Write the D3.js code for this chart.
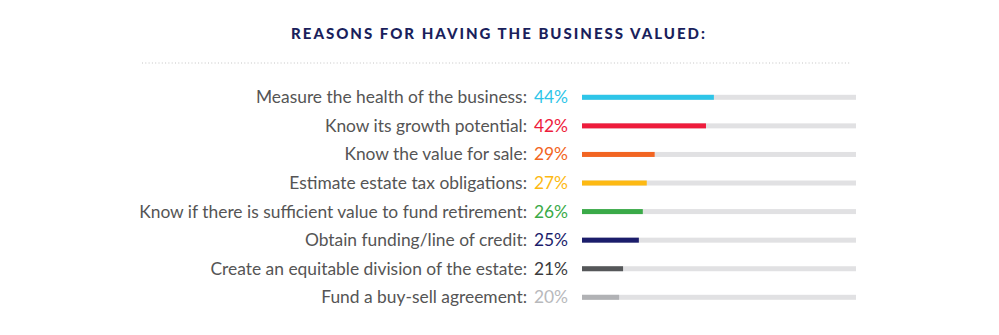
<!DOCTYPE html>
<html>
<head>
<meta charset="utf-8">
<script src="https://cdn.jsdelivr.net/npm/d3@7"></script>
<style>
  html, body { margin: 0; padding: 0; background: #ffffff; }
  svg { display: block; }
</style>
</head>
<body>
<svg id="chart" width="999" height="335"></svg>
<script>
// Survey answers: reasons owners give for having the business valued
const reasons = [
  "Measure the health of the business:",
  "Know its growth potential:",
  "Know the value for sale:",
  "Estimate estate tax obligations:",
  "Know if there is sufficient value to fund retirement:",
  "Obtain funding/line of credit:",
  "Create an equitable division of the estate:",
  "Fund a buy-sell agreement:"
];
const shares = [44, 42, 29, 27, 26, 25, 21, 20];
const colors = ["#2ec5e8", "#ee1c3c", "#f26522", "#fdb913", "#3aaa48", "#1b1d6b", "#555759", "#b1b2b5"];
const valueColors = ["#2ec5e8", "#ee1c3c", "#f26522", "#fdb913", "#3aaa48", "#1b1d6b", "#3b3b3d", "#b8b9bc"];
const title = "REASONS FOR HAVING THE BUSINESS VALUED:";

const svg = d3.select("#chart");

// Title
svg.append("text")
  .attr("x", 499)
  .attr("y", 39)
  .attr("text-anchor", "middle")
  .attr("font-family", "Lato, 'Open Sans', sans-serif")
  .attr("font-weight", 900)
  .attr("font-size", 15)
  .attr("letter-spacing", 2.0)
  .attr("fill", "#1a1f5c")
  .text(title);

// Dotted divider
svg.append("line")
  .attr("x1", 142).attr("x2", 851)
  .attr("y1", 63).attr("y2", 63)
  .attr("stroke", "#c4c4c4")
  .attr("stroke-width", 1)
  .attr("stroke-dasharray", "1,2.3");

// Scales
const y = d3.scalePoint()
  .domain(reasons)
  .range([97.3, 297.3]);

const trackStart = 582, trackEnd = 856;
const x = d3.scaleLinear()
  .domain([10.6, 80])
  .range([trackStart, trackEnd]);

const rows = svg.append("g").selectAll("g")
  .data(reasons.map((r, i) => ({ reason: r, value: shares[i], color: colors[i], valueColor: valueColors[i] })))
  .join("g")
  .attr("transform", d => `translate(0,${y(d.reason)})`);

// Category label
rows.append("text")
  .attr("x", 527)
  .attr("y", 6)
  .attr("text-anchor", "end")
  .attr("font-family", "Lato, 'Open Sans', sans-serif")
  .attr("font-size", 17.4)
  .attr("fill", "#555555")
  .text(d => d.reason);

// Percentage value
rows.append("text")
  .attr("x", 568)
  .attr("y", 6)
  .attr("text-anchor", "end")
  .attr("font-family", "Lato, 'Open Sans', sans-serif")
  .attr("font-size", 17.4)
  .attr("fill", d => d.valueColor)
  .text(d => d.value + "%");

// Background track
rows.append("rect")
  .attr("x", trackStart)
  .attr("y", -2.5)
  .attr("width", trackEnd - trackStart)
  .attr("height", 5)
  .attr("fill", "#e1e1e3");

// Value bar
rows.append("rect")
  .attr("x", trackStart)
  .attr("y", -2.5)
  .attr("width", d => x(d.value) - trackStart)
  .attr("height", 5)
  .attr("fill", d => d.color);
</script>
</body>
</html>
